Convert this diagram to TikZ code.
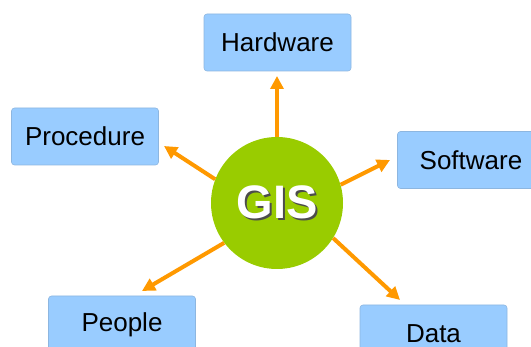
\documentclass[tikz,border=0pt]{standalone}
\usepackage{fontspec}
\setmainfont{Liberation Sans}
\usepackage{tikz}
\usetikzlibrary{arrows.meta}
\definecolor{boxblue}{HTML}{99CCFF}
\definecolor{boxedge}{HTML}{8DB6E0}
\definecolor{gisgreen}{HTML}{99CC00}
\definecolor{arroworange}{HTML}{FF9900}
% white text with a dark drop shadow
\newcommand{\shadowed}[1]{\makebox[0pt][l]{\kern2pt\raisebox{-2pt}{\color{black!70}#1}}{\color{white}#1}}
\tikzset{
  part/.style={rectangle, rounded corners=3pt, fill=boxblue, draw=boxedge, line width=0.6pt,
    minimum width=147pt, minimum height=57pt, font=\fontsize{26}{30}\selectfont},
  spoke/.style={arroworange, line width=4pt, -{Triangle[length=13pt,width=13pt]}}
}

\begin{document}
\begin{tikzpicture}[x=1pt,y=-1pt]
\useasboundingbox (0,0) rectangle (531,347);
%
\node[part] (hardware) at (277.5,42.5) {Hardware};
\node[part] (procedure) at (85,136.5) {Procedure};
\node[part] (software) at (471,160) {Software};
\node[part] (people) at (122,324.5) {People};
\node[part] (data) at (433.5,333.5) {Data};
%
\node[circle, fill=gisgreen, minimum size=132pt, inner sep=0pt,
  font=\bfseries\fontsize{47}{50}\selectfont] (gis) at (277,203) {\shadowed{GIS}};
%
\coordinate (hwtip) at (277,76);
\coordinate (prtip) at (164,146);
\coordinate (swtip) at (390,160);
\coordinate (petip) at (142,291);
\coordinate (datip) at (400,300);
%
\draw[spoke] (gis.north) -- (hwtip);
\draw[spoke] (gis.159) -- (prtip);
\draw[spoke] (gis.16) -- (swtip);
\draw[spoke] (gis.-143) -- (petip);
\draw[spoke] (gis.-32) -- (datip);
\end{tikzpicture}
\end{document}
